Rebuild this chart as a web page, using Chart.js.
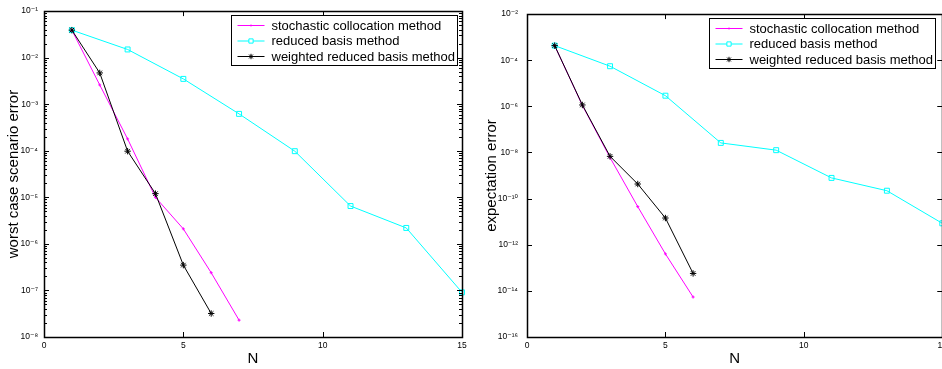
<!DOCTYPE html>
<html>
<head>
<meta charset="utf-8">
<script src="https://cdn.jsdelivr.net/npm/chart.js@4/dist/chart.umd.min.js"></script>
<style>
  html, body { margin: 0; padding: 0; background: #fff; }
  #wrap { position: relative; width: 942px; height: 369px; overflow: hidden; }
  canvas { position: absolute; top: 0; }
  #left { left: 0; }
  #right { left: 471px; }
</style>
</head>
<body>
<div id="wrap">
  <canvas id="left" width="472" height="369"></canvas>
  <canvas id="right" width="480" height="369"></canvas>
</div>
<script>
// legend labels
var methods = ['stochastic collocation method', 'reduced basis method', 'weighted reduced basis method'];

// N values of each method
var nColloc = [1, 2, 3, 4, 5, 6, 7];
var nReduced = [1, 3, 5, 7, 9, 11, 13, 15];
var nWeighted = [1, 2, 3, 4, 5, 6];

// left panel: worst case scenario error
var worstColloc = [3.9e-2, 2.6e-3, 1.8e-4, 1.0e-5, 2.1e-6, 2.4e-7, 2.3e-8];
var worstReduced = [3.9e-2, 1.5e-2, 3.5e-3, 6.2e-4, 9.8e-5, 6.5e-6, 2.2e-6, 9.1e-8];
var worstWeighted = [3.9e-2, 4.7e-3, 9.8e-5, 1.2e-5, 3.5e-7, 3.2e-8];

// right panel: expectation error
var expColloc = [4.3e-4, 1.1e-6, 6.0e-9, 4.5e-11, 4.0e-13, 5.4e-15];
var expReduced = [4.3e-4, 5.5e-5, 2.9e-6, 2.6e-8, 1.26e-8, 7.9e-10, 2.2e-10, 8.5e-12];
var expWeighted = [4.3e-4, 1.15e-6, 6.8e-9, 4.3e-10, 1.44e-11, 5.7e-14];

// tick labels
var xTicks = [0, 5, 10, 15];
var worstExps = [-1, -2, -3, -4, -5, -6, -7, -8];
var expExps = [-2, -4, -6, -8, -10, -12, -14, -16];

var FONT = "'Liberation Sans', 'DejaVu Sans', Arial, sans-serif";
var SUP = {'-': '\u207B', '0': '\u2070', '1': '\u00B9', '2': '\u00B2', '3': '\u00B3',
  '4': '\u2074', '5': '\u2075', '6': '\u2076', '7': '\u2077', '8': '\u2078', '9': '\u2079'};

function sup(n) {
  return String(n).split('').map(function (c) { return SUP[c]; }).join('');
}

function pts(xs, ys) {
  return xs.map(function (x, i) { return {x: x, y: ys[i]}; });
}

// box + inward tick marks like the matlab axes
var framePlugin = {
  id: 'frame',
  afterDraw: function (chart, args, o) {
    var ctx = chart.ctx, a = chart.chartArea;
    var xs = chart.scales.x, ys = chart.scales.y;
    ctx.save();
    ctx.strokeStyle = '#000';
    ctx.lineWidth = 1;
    ctx.beginPath();
    xTicks.forEach(function (v) {
      var px = Math.round(xs.getPixelForValue(v)) + 0.5;
      ctx.moveTo(px, a.bottom); ctx.lineTo(px, a.bottom - 5);
      ctx.moveTo(px, a.top); ctx.lineTo(px, a.top + 5);
    });
    o.exps.forEach(function (e) {
      var py = Math.round(ys.getPixelForValue(Math.pow(10, e))) + 0.5;
      ctx.moveTo(a.left, py); ctx.lineTo(a.left + 5, py);
      ctx.moveTo(a.right, py); ctx.lineTo(a.right - 5, py);
    });
    if (o.minor) {
      var lo = o.exps[o.exps.length - 1], hi = o.exps[0];
      for (var e = lo; e < hi; e++) {
        for (var m = 2; m <= 9; m++) {
          var py = Math.round(ys.getPixelForValue(m * Math.pow(10, e))) + 0.5;
          ctx.moveTo(a.left, py); ctx.lineTo(a.left + 3, py);
          ctx.moveTo(a.right, py); ctx.lineTo(a.right - 3, py);
        }
      }
    }
    ctx.stroke();
    ctx.lineWidth = 1.5;
    ctx.strokeRect(Math.round(a.left) + 0.5, Math.round(a.top) + 0.5,
      Math.round(a.right - a.left), Math.round(a.bottom - a.top));
    ctx.restore();
  }
};

// legend box in the top right corner
var boxLegend = {
  id: 'boxLegend',
  afterDraw: function (chart, args, o) {
    var ctx = chart.ctx, a = chart.chartArea;
    var w = 226, h = 50;
    var bx = Math.round(a.right - o.inset - w) + 0.5, by = Math.round(a.top + 4) + 0.5;
    ctx.save();
    ctx.fillStyle = '#fff';
    ctx.fillRect(bx, by, w, h);
    ctx.strokeStyle = '#000';
    ctx.lineWidth = 1;
    ctx.strokeRect(bx, by, w, h);
    chart.data.datasets.forEach(function (ds, i) {
      var y = by + 10 + i * 15.5;
      ctx.strokeStyle = ds.borderColor;
      ctx.lineWidth = 1;
      ctx.beginPath();
      ctx.moveTo(bx + 6, y); ctx.lineTo(bx + 33, y);
      ctx.stroke();
      ctx.fillStyle = '#fff';
      if (Chart.helpers && Chart.helpers.drawPoint) {
        Chart.helpers.drawPoint(ctx, {pointStyle: ds.pointStyle, radius: ds.pointRadius - 0.5, rotation: 0, borderWidth: 1}, bx + 19.5, y);
      }
      ctx.fillStyle = '#000';
      ctx.font = '13px ' + FONT;
      ctx.textBaseline = 'middle';
      ctx.fillText(ds.label, bx + 40, y + 0.5);
    });
    ctx.restore();
  }
};

function makeChart(id, opt) {
  var ctx = document.getElementById(id).getContext('2d');
  return new Chart(ctx, {
    type: 'line',
    data: {
      datasets: [{
        label: methods[0],
        data: pts(nColloc, opt.colloc),
        borderColor: '#ff00ff',
        pointStyle: 'cross',
        pointRadius: 1.5,
        order: 2
      }, {
        label: methods[1],
        data: pts(nReduced, opt.reduced),
        borderColor: '#00ffff',
        pointBackgroundColor: 'rgba(0,0,0,0)',
        pointStyle: 'rect',
        pointRadius: 3.5,
        order: 1
      }, {
        label: methods[2],
        data: pts(nWeighted, opt.weighted),
        borderColor: '#000000',
        pointStyle: 'star',
        pointRadius: 3.2,
        order: 0
      }].map(function (d) {
        d.borderWidth = 1;
        d.pointBorderWidth = 1;
        d.pointBorderColor = d.borderColor;
        d.fill = false;
        d.tension = 0;
        d.clip = false;
        return d;
      })
    },
    options: {
      responsive: false,
      animation: false,
      devicePixelRatio: 1,
      layout: { padding: { left: 0, top: 9, right: opt.padRight, bottom: 0 } },
      plugins: {
        legend: { display: false },
        tooltip: { enabled: false },
        frame: { exps: opt.exps, minor: opt.minor },
        boxLegend: { inset: opt.inset }
      },
      scales: {
        x: {
          type: 'linear',
          min: 0,
          max: 15,
          afterBuildTicks: function (s) { s.ticks = xTicks.map(function (v) { return {value: v}; }); },
          afterFit: function (s) { s.height = 32; },
          grid: { display: false, drawTicks: false },
          border: { display: false },
          ticks: { color: '#000', font: { family: FONT, size: 8.5 }, padding: 4, maxRotation: 0, autoSkip: false },
          title: { display: true, text: 'N', color: '#000', font: { family: FONT, size: 15, lineHeight: 1 }, padding: { top: 0, bottom: 3 } }
        },
        y: {
          type: 'logarithmic',
          min: Math.pow(10, opt.exps[opt.exps.length - 1]),
          max: Math.pow(10, opt.exps[0]),
          afterBuildTicks: function (s) { s.ticks = opt.exps.map(function (e) { return {value: Math.pow(10, e)}; }); },
          afterFit: function (s) { s.width = opt.yWidth; },
          grid: { display: false, drawTicks: false },
          border: { display: false },
          ticks: {
            color: '#000',
            font: { family: FONT, size: 8.5 },
            padding: opt.tickPad,
            autoSkip: false,
            callback: function (v) { return '10' + sup(Math.round(Math.log10(v))); }
          },
          title: { display: true, text: opt.yTitle, color: '#000', font: { family: FONT, size: 15, lineHeight: 1 }, padding: { top: opt.titlePad, bottom: 0 } }
        }
      }
    },
    plugins: [framePlugin, boxLegend]
  });
}

makeChart('left', {
  colloc: worstColloc, reduced: worstReduced, weighted: worstWeighted,
  exps: worstExps, minor: true, yTitle: 'worst case scenario error',
  yWidth: 44, padRight: 10, tickPad: 6, titlePad: 6, inset: 5
});

makeChart('right', {
  colloc: expColloc, reduced: expReduced, weighted: expWeighted,
  exps: expExps, minor: false, yTitle: 'expectation error',
  yWidth: 56, padRight: 7, tickPad: 9, titlePad: 13, inset: 7
});
</script>
</body>
</html>
